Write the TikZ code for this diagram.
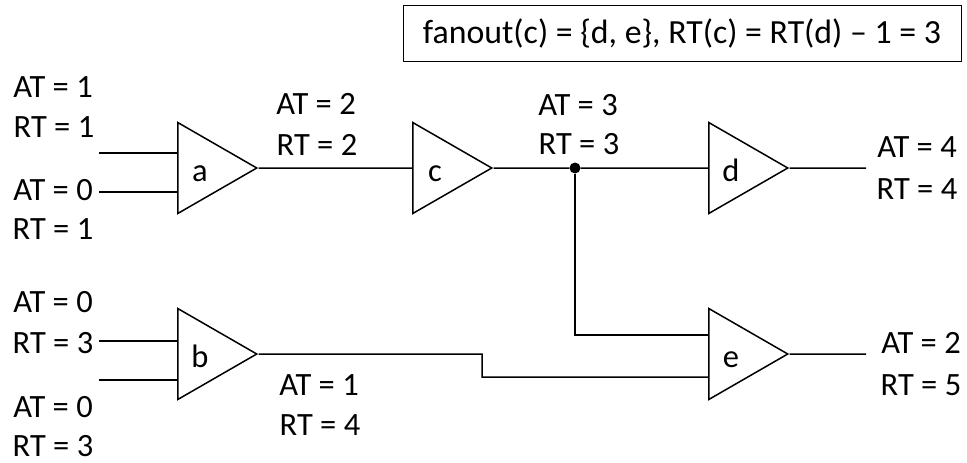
\documentclass[tikz,border=0pt]{standalone}
\usepackage{fontspec}
\setmainfont{Carlito}
\usetikzlibrary{shapes.geometric}

\begin{document}
\begin{tikzpicture}[
    x=1pt, y=-1pt,
    font=\fontsize{32.5}{38}\selectfont,
    gate/.style={isosceles triangle, draw, line width=1.5pt,
                 isosceles triangle stretches, shape border rotate=0,
                 minimum width=91pt, minimum height=79pt,
                 inner sep=0pt, text width=22pt, align=center,
                 text height=27pt, text depth=0pt, anchor=west},
    wire/.style={line width=1.5pt},
    lbl/.style={inner sep=0pt},
    note/.style={draw, line width=1pt, minimum width=558pt, minimum height=56pt,
                 inner sep=0pt, font=\fontsize{33.8}{38}\selectfont},
    dot/.style={circle, fill=black, inner sep=0pt, minimum size=11pt}
  ]
  \useasboundingbox (0,0) rectangle (967,463);

  % Gates.
  \node[gate] (a) at (177,168) {a};
  \node[gate] (c) at (412,168) {c};
  \node[gate] (d) at (708,168) {d};
  \node[gate] (b) at (177,354) {b};
  \node[gate] (e) at (708,354) {e};

  % Junction and free wire ends.
  \node[dot] (fork) at (575,168) {};
  \coordinate (a1) at (99,153);
  \coordinate (a2) at (99,192);
  \coordinate (b1) at (99,341);
  \coordinate (b2) at (99,380);
  \coordinate (dout) at (866,168);
  \coordinate (eout) at (866,354);
  \coordinate (e1) at (708,335);
  \coordinate (e2) at (708,377);

  % Wires.
  \draw[wire] (a1) -- (a1 -| a.west);
  \draw[wire] (a2) -- (a2 -| a.west);
  \draw[wire] (b1) -- (b1 -| b.west);
  \draw[wire] (b2) -- (b2 -| b.west);
  \draw[wire] (a.apex) -- (c.west);
  \draw[wire] (c.apex) -- (fork) -- (d.west);
  \draw[wire] (fork) |- (e1);
  \draw[wire] (b.apex) -- (482,354) |- (e2);
  \draw[wire] (d.apex) -- (dout);
  \draw[wire] (e.apex) -- (eout);

  % Timing labels.
  \node[lbl] (at1) at (53,87)  {AT = 1};
  \node[lbl] (rt1) at (54,127) {RT = 1};
  \node[lbl] (at2) at (53,190) {AT = 0};
  \node[lbl] (rt2) at (53,229) {RT = 1};
  \node[lbl] (at3) at (316,104) {AT = 2};
  \node[lbl] (rt3) at (317,145) {RT = 2};
  \node[lbl] (at4) at (578,105) {AT = 3};
  \node[lbl] (rt4) at (579,144) {RT = 3};
  \node[lbl] (at5) at (917,147) {AT = 4};
  \node[lbl] (rt5) at (917,189) {RT = 4};
  \node[lbl] (at6) at (53,302) {AT = 0};
  \node[lbl] (rt6) at (53,343) {RT = 3};
  \node[lbl] (at7) at (53,407) {AT = 0};
  \node[lbl] (rt7) at (53,446) {RT = 3};
  \node[lbl] (at8) at (319,385) {AT = 1};
  \node[lbl] (rt8) at (320,425) {RT = 4};
  \node[lbl] (at9) at (921,343) {AT = 2};
  \node[lbl] (rt9) at (921,385) {RT = 5};

  % Note box.
  \node[note] (note) at (682,33) {fanout(c) = \{d, e\}, RT(c) = RT(d) -- 1 = 3};

\end{tikzpicture}
\end{document}
